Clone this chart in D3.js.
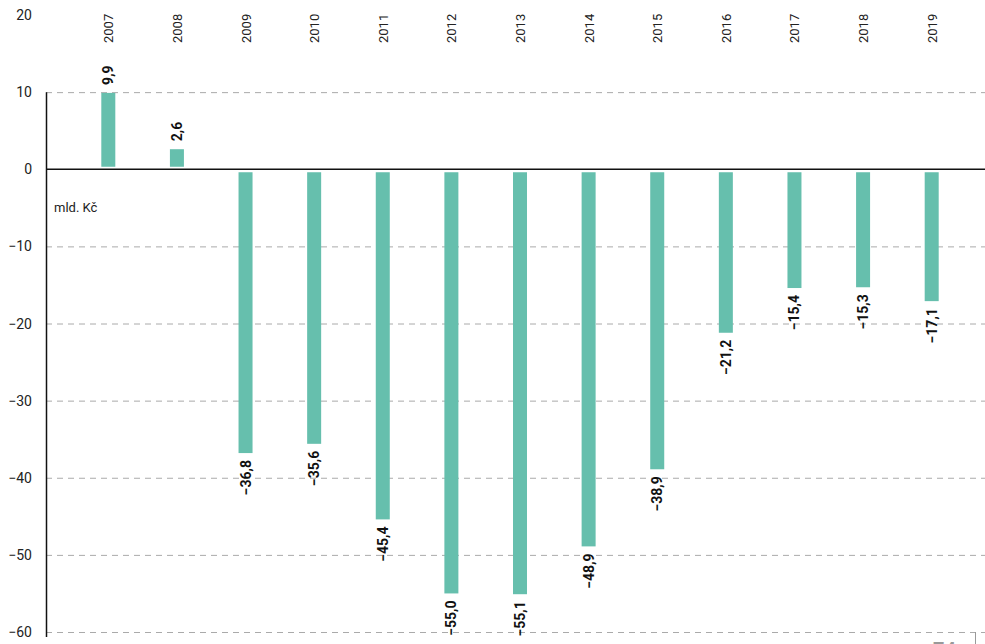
<!DOCTYPE html>
<html>
<head>
<meta charset="utf-8">
<script src="https://cdn.jsdelivr.net/npm/d3@7"></script>
<style>
  body { margin: 0; background: #fff; }
  svg { font-family: Roboto, "Noto Sans", sans-serif; display: block; }
</style>
</head>
<body>
<script>

// data (mld. Kč)
var years = ["2007", "2008", "2009", "2010", "2011", "2012", "2013",
             "2014", "2015", "2016", "2017", "2018", "2019"];
var values = [9.9, 2.6, -36.8, -35.6, -45.4, -55.0, -55.1,
              -48.9, -38.9, -21.2, -15.4, -15.3, -17.1];
var yTicks = [20, 10, 0, -10, -20, -30, -40, -50, -60];

var width = 985, height = 644;
var barColor = "#66bfad";

var svg = d3.select("body").append("svg")
    .attr("width", width)
    .attr("height", height);

var x = d3.scaleBand()
    .domain(years)
    .range([74, 966]);

var y = d3.scaleLinear()
    .domain([-60, 20])
    .range([632, 15]);

var fmt = function(v) {
  return d3.format(".1f")(v).replace(".", ",").replace("-", "\u2212");
};

// gridlines (no line at 20, solid at 0)
svg.selectAll(".grid")
  .data(yTicks.filter(function(t) { return t != 20 && t != 0; }))
  .enter().append("line")
    .attr("class", "grid")
    .attr("x1", 46)
    .attr("x2", width)
    .attr("y1", function(d) { return y(d) + 0.5; })
    .attr("y2", function(d) { return y(d) + 0.5; })
    .attr("stroke", "#aaa")
    .attr("stroke-width", 1)
    .style("stroke-dasharray", "6, 5");

// y tick labels
svg.selectAll(".ytick")
  .data(yTicks)
  .enter().append("text")
    .attr("class", "ytick")
    .attr("x", 32)
    .attr("y", function(d) { return y(d) + 5; })
    .attr("text-anchor", "end")
    .style("font-size", "14px")
    .style("fill", "#222")
    .text(function(d) { return String(d).replace("-", "\u2212"); });

// bars, a small gap is left next to the zero line
svg.selectAll(".bar")
  .data(values)
  .enter().append("rect")
    .attr("class", "bar")
    .attr("x", function(d, i) { return x(years[i]) + x.bandwidth() / 2 - 7; })
    .attr("width", 14)
    .attr("y", function(d) { return d >= 0 ? y(d) : y(0) + 3; })
    .attr("height", function(d) {
      return d >= 0 ? y(0) - y(d) - 2.5 : y(d) - y(0) - 3;
    })
    .style("fill", barColor);

// zero line
svg.append("line")
    .attr("x1", 46)
    .attr("x2", width)
    .attr("y1", y(0))
    .attr("y2", y(0))
    .attr("stroke", "#111")
    .attr("stroke-width", 1.5);

// y axis line, from 10 down
svg.append("line")
    .attr("x1", 46.5)
    .attr("x2", 46.5)
    .attr("y1", y(10))
    .attr("y2", 637)
    .attr("stroke", "#111")
    .attr("stroke-width", 1.5);

// year labels at the top
svg.selectAll(".year")
  .data(years)
  .enter().append("text")
    .attr("class", "year")
    .attr("transform", function(d) {
      return "translate(" + (x(d) + x.bandwidth() / 2 + 5) + ",43) rotate(-90)";
    })
    .style("font-size", "13px")
    .style("fill", "#222")
    .text(function(d) { return d; });

// value labels
svg.selectAll(".val")
  .data(values)
  .enter().append("text")
    .attr("class", "val")
    .attr("transform", function(d, i) {
      var cx = x(years[i]) + x.bandwidth() / 2 + 5;
      var ty = d >= 0 ? y(d) - 8 : y(d) + 7;
      return "translate(" + cx + "," + ty + ") rotate(-90)";
    })
    .attr("text-anchor", function(d) { return d >= 0 ? "start" : "end"; })
    .style("font-size", "14px")
    .style("font-weight", "bold")
    .style("fill", "#111")
    .text(function(d) { return fmt(d); });

// unit
svg.append("text")
    .attr("x", 54)
    .attr("y", 212)
    .style("font-size", "13px")
    .style("fill", "#222")
    .text("mld. Kč");

// page number, cut off at the bottom
svg.append("text")
    .attr("x", 933)
    .attr("y", 657)
    .style("font-size", "20px")
    .style("font-weight", "bold")
    .style("fill", "#999")
    .text("74");
svg.append("line")
    .attr("x1", 975.5)
    .attr("x2", 975.5)
    .attr("y1", 632)
    .attr("y2", 644)
    .attr("stroke", "#999")
    .attr("stroke-width", 1);

</script>
</body>
</html>
